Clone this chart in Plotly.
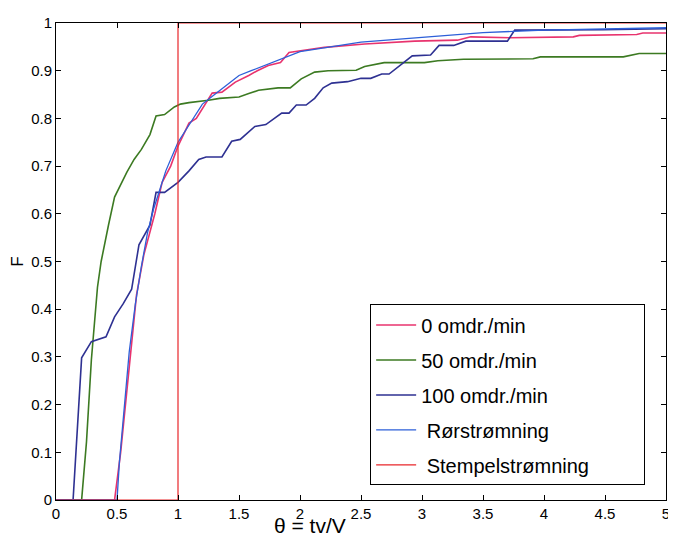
import plotly.graph_objects as go

# 0 omdr./min
theta_0 = [0, 0.48, 0.53, 0.60, 0.66, 0.72, 0.81, 0.87, 0.94, 1.0, 1.09, 1.15, 1.23, 1.28, 1.36,
           1.47, 1.58, 1.65, 1.74, 1.84, 1.91, 2.01, 2.12, 2.20, 2.53, 2.94, 3.29, 3.40, 3.72,
           4.24, 4.29, 4.76, 4.81, 5.0]
F_0 = [0, 0, 0.10, 0.28, 0.43, 0.514, 0.60, 0.666, 0.70, 0.742, 0.79, 0.80, 0.831, 0.853, 0.855,
       0.876, 0.89, 0.90, 0.911, 0.917, 0.938, 0.942, 0.946, 0.949, 0.956, 0.962, 0.964, 0.971, 0.969,
       0.971, 0.974, 0.976, 0.979, 0.979]

# 50 omdr./min
theta_50 = [0, 0.21, 0.25, 0.29, 0.34, 0.37, 0.43, 0.48, 0.58, 0.64, 0.70, 0.77, 0.82, 0.89, 0.97,
            1.02, 1.09, 1.17, 1.25, 1.34, 1.50, 1.58, 1.66, 1.82, 1.92, 2.01, 2.12, 2.23, 2.46,
            2.53, 2.69, 3.02, 3.13, 3.34, 3.91, 3.97, 4.65, 4.78, 5.0]
F_50 = [0, 0, 0.122, 0.294, 0.446, 0.50, 0.576, 0.635, 0.687, 0.714, 0.735, 0.766, 0.805, 0.808, 0.824,
        0.830, 0.833, 0.835, 0.838, 0.842, 0.845, 0.852, 0.859, 0.864, 0.864, 0.883, 0.897, 0.90, 0.901,
        0.909, 0.917, 0.917, 0.921, 0.924, 0.925, 0.929, 0.929, 0.936, 0.936]

# 100 omdr./min
theta_100 = [0, 0.14, 0.21, 0.29, 0.41, 0.48, 0.55, 0.62, 0.68, 0.77, 0.82, 0.89, 1.0, 1.09, 1.17,
             1.23, 1.36, 1.44, 1.51, 1.63, 1.72, 1.85, 1.91, 1.97, 2.05, 2.12, 2.19, 2.26, 2.39,
             2.50, 2.58, 2.67, 2.73, 2.83, 2.92, 3.07, 3.14, 3.26, 3.36, 3.70, 3.76, 4.48, 5.0]
F_100 = [0, 0, 0.298, 0.332, 0.342, 0.384, 0.411, 0.442, 0.535, 0.576, 0.645, 0.645, 0.666, 0.690, 0.714,
         0.719, 0.719, 0.752, 0.756, 0.783, 0.787, 0.811, 0.811, 0.828, 0.828, 0.842, 0.864, 0.874, 0.877,
         0.884, 0.884, 0.893, 0.893, 0.914, 0.931, 0.933, 0.953, 0.953, 0.962, 0.962, 0.985, 0.986, 0.988]

# Rørstrømning (laminar pipe flow)
theta_ror = [0, 0.5, 0.52, 0.55, 0.6, 0.65, 0.7, 0.75, 0.8, 0.85, 0.9, 1.0, 1.1, 1.2, 1.3, 1.4, 1.5,
             1.6, 1.8, 2.0, 2.25, 2.5, 3.0, 3.5, 4.0, 4.5, 5.0]
F_ror = [0, 0, 0.08, 0.17, 0.31, 0.41, 0.49, 0.56, 0.61, 0.65, 0.69, 0.75, 0.79, 0.83, 0.85, 0.87, 0.89,
         0.90, 0.92, 0.94, 0.95, 0.96, 0.97, 0.98, 0.985, 0.988, 0.99]

# Stempelstrømning (plug flow)
theta_stempel = [0, 1, 1, 5]
F_stempel = [0, 0, 1, 1]

xticks = [0, 0.5, 1, 1.5, 2, 2.5, 3, 3.5, 4, 4.5, 5]
xticklabels = ["0", "0.5", "1", "1.5", "2", "2.5", "3", "3.5", "4", "4.5", "5"]
yticks = [0, 0.1, 0.2, 0.3, 0.4, 0.5, 0.6, 0.7, 0.8, 0.9, 1]
yticklabels = ["0", "0.1", "0.2", "0.3", "0.4", "0.5", "0.6", "0.7", "0.8", "0.9", "1"]

# trailing no-break spaces only pad the legend box to the reference width
series = [
    ("0 omdr./min", theta_0, F_0, "#e8336e", 1.6),
    ("50 omdr./min", theta_50, F_50, "#3c7a22", 1.6),
    ("100 omdr./min", theta_100, F_100, "#2e3192", 1.6),
    (" Rørstrømning", theta_ror, F_ror, "#2d5fd8", 1.3),
    (" Stempelstrømning" + "\u00a0" * 9, theta_stempel, F_stempel, "#e8262a", 1.2),
]

fig = go.Figure()
for i, (name, x, y, color, w) in enumerate(series):
    fig.add_trace(go.Scatter(x=x, y=y, mode="lines", name=name, legendgroup=str(i),
                             line=dict(color=color, width=w)))

axis_common = dict(showline=True, linecolor="black", linewidth=1, mirror="ticks",
                   ticks="inside", ticklen=5, tickcolor="black", showgrid=False,
                   zeroline=False, ticklabeloverflow="allow",
                   tickfont=dict(size=15, color="black"))

# page body adds an 8px margin, so the figure is sized to fit inside the window
fig.update_layout(
    width=668, height=529,
    margin=dict(l=48, r=6, t=8, b=37),
    plot_bgcolor="white", paper_bgcolor="white",
    font=dict(family="Liberation Sans, Arial, sans-serif", color="black"),
    xaxis=dict(range=[0, 5], tickvals=xticks, ticktext=xticklabels, **axis_common),
    yaxis=dict(range=[0, 1], tickvals=yticks, ticktext=yticklabels,
               title=dict(text="F", font=dict(size=17), standoff=4), **axis_common),
    legend=dict(x=0.515, y=0.41, xanchor="left", yanchor="top",
                bordercolor="black", borderwidth=1, bgcolor="white",
                font=dict(size=20), tracegroupgap=6, itemwidth=40),
    annotations=[dict(text="θ = tv/V", x=0.417, y=-0.054, xref="paper", yref="paper",
                      xanchor="center", yanchor="middle", showarrow=False, font=dict(size=21))],
)

fig.write_html("out.html")
